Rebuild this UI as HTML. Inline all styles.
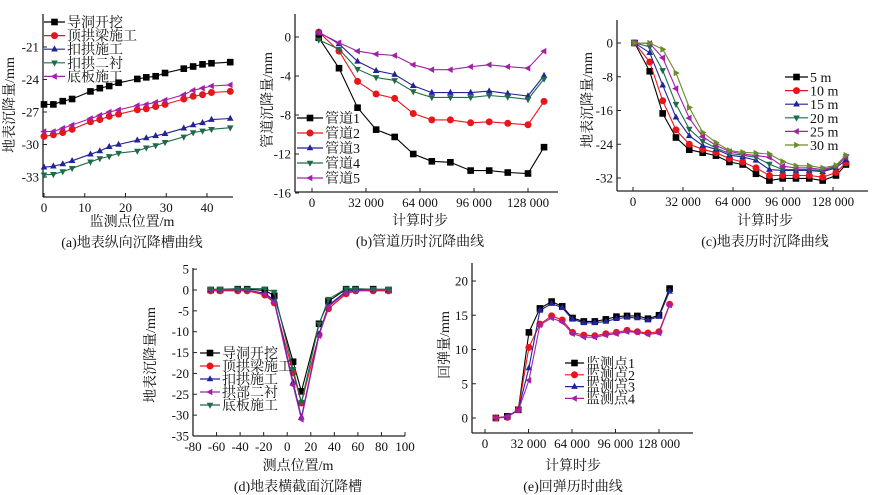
<!DOCTYPE html>
<html><head><meta charset="utf-8">
<style>
body{margin:0;background:#fff;}
svg{display:block;font-family:"Liberation Serif","Noto Serif CJK SC",serif;}
</style></head>
<body>
<svg id="fig" width="889" height="495" viewBox="0 0 889 495" xmlns="http://www.w3.org/2000/svg"></svg>
<script>
// ---- Panel (a) data ----
const aX = [0,2.3,4.6,6.9,11.4,13.7,16,18.3,22.9,25.1,27.4,29.7,34.3,36.6,38.9,41.1,45.7];
const aS1 = [-26.3,-26.3,-26.0,-25.8,-25.1,-24.8,-24.6,-24.3,-23.95,-23.8,-23.7,-23.4,-23.0,-22.8,-22.6,-22.5,-22.4];
const aS2 = [-29.25,-29.1,-28.9,-28.6,-27.9,-27.7,-27.4,-27.2,-26.8,-26.7,-26.5,-26.3,-25.8,-25.55,-25.4,-25.2,-25.1];
const aS3 = [-32.1,-32.0,-31.8,-31.5,-30.9,-30.6,-30.2,-30.0,-29.6,-29.4,-29.2,-29.0,-28.5,-28.2,-28.0,-27.7,-27.6];
const aS4 = [-32.8,-32.75,-32.5,-32.2,-31.6,-31.3,-31.1,-30.8,-30.6,-30.3,-30.1,-29.8,-29.3,-28.9,-28.75,-28.6,-28.45];
const aS5 = [-28.8,-28.8,-28.5,-28.2,-27.6,-27.3,-27.0,-26.8,-26.4,-26.3,-26.1,-25.9,-25.4,-25.0,-24.8,-24.6,-24.5];
const aNames = ["导洞开挖","顶拱梁施工","扣拱施工","扣拱二衬","底板施工"];
const aXTicks = [0,10,20,30,40];
const aYTicks = [-33,-30,-27,-24,-21];
// ---- Panel (b) data ----
const bX = [4000,16000,27000,38000,49000,60000,71000,82000,94000,105000,116000,128000,137500];
const bS1 = [-0.07,-3.2,-7.25,-9.5,-10.25,-12.0,-12.75,-12.85,-13.7,-13.7,-13.9,-14.0,-11.3];
const bS2 = [0.5,-1.45,-4.55,-5.85,-6.3,-7.85,-8.5,-8.5,-8.8,-8.7,-8.85,-9.0,-6.6];
const bS3 = [0.5,-0.7,-2.5,-3.45,-3.85,-5.0,-5.7,-5.7,-5.7,-5.55,-5.8,-6.05,-3.95];
const bS4 = [-0.3,-1.25,-3.3,-4.15,-4.45,-5.6,-6.2,-6.2,-6.2,-6.0,-6.15,-6.4,-4.3];
const bS5 = [0.45,-0.6,-1.45,-1.75,-1.9,-2.85,-3.35,-3.35,-3.05,-2.85,-3.05,-3.2,-1.45];
const bNames = ["管道1","管道2","管道3","管道4","管道5"];
const bXTicks = [0,32000,64000,96000,128000];
const bXLabels = ["0","32 000","64 000","96 000","128 000"];
const bYTicks = [-16,-12,-8,-4,0];
// ---- Panel (c) data ----
const cX = [1000,10700,19000,27500,36000,44600,53100,61700,70200,78700,87300,95800,104300,112800,121400,129900,136300];
const cS1 = [0,-6.7,-16.7,-22.4,-25.3,-26.0,-26.7,-28.2,-28.8,-31.0,-32.6,-32.1,-32.1,-32.1,-32.6,-31.4,-28.8];
const cS2 = [0,-4.5,-13.7,-20.6,-24.0,-25.2,-26.0,-27.4,-28.2,-29.6,-31.4,-31.4,-31.4,-31.4,-31.8,-30.7,-28.4];
const cS3 = [0,-2.3,-10.0,-17.6,-22.0,-24.3,-25.2,-26.6,-27.0,-27.8,-30.0,-30.2,-30.2,-30.2,-30.5,-29.6,-27.7];
const cS4 = [0,-0.9,-6.5,-14.5,-20.4,-23.3,-24.9,-26.2,-26.6,-27.1,-28.7,-30.0,-30.0,-30.0,-30.3,-29.4,-26.9];
const cS5 = [0,-0.1,-3.5,-10.8,-17.8,-22.2,-24.3,-25.7,-26.3,-26.7,-27.1,-29.2,-29.6,-29.6,-30.0,-29.2,-27.0];
const cS6 = [0,0,-1.5,-7.1,-15.3,-21.2,-23.6,-25.5,-25.9,-26.1,-26.3,-28.1,-29.1,-29.1,-29.6,-29.0,-26.6];
const cNames = ["5 m","10 m","15 m","20 m","25 m","30 m"];
const cYTicks = [-32,-24,-16,-8,0];
// ---- Panel (d) data ----
const dX = [-65,-57,-42,-34,-19,-11,5,12,27,35,50,58,73,86];
const dS1 = [0,0,0.2,0.2,-0.1,-1.4,-17.2,-24.3,-8.1,-2.7,0.2,0.2,0.2,0];
const dS2 = [-0.2,-0.2,-0.2,-0.2,-1.2,-3.1,-19.8,-27.1,-10.7,-4.5,-0.9,-0.2,-0.2,-0.2];
const dS3 = [0,0,0,0,-0.8,-2.5,-22.1,-30.5,-10.6,-3.7,-0.3,0,0,0];
const dS4 = [0,0,0,0,-1,-2.9,-22.8,-31,-11,-4,-0.6,-0.2,0,0];
const dS5 = [0.2,0.2,0.3,0.3,0.3,-0.5,-19.0,-26.9,-8.2,-2.2,0.3,0.3,0.2,0.2];
const dNames = ["导洞开挖","顶拱梁施工","扣拱施工","拱部二衬","底板施工"];
const dXTicks = [-80,-60,-40,-20,0,20,40,60,80,100];
const dYTicks = [-35,-30,-25,-20,-15,-10,-5,0,5];
// ---- Panel (e) data ----
const eX = [8000,16400,24500,32300,40400,49000,56800,64400,72700,80800,88900,96700,104500,112100,119900,128000,135800];
const eS1 = [0,0.24,1.2,12.5,16.0,17.0,16.3,14.6,14.1,14.1,14.4,14.8,14.9,14.9,14.5,15.0,18.9];
const eS2 = [0,0.1,1.2,10.3,13.7,14.9,14.3,12.5,12.1,12.0,12.3,12.5,12.8,12.6,12.4,12.6,16.6];
const eS3 = [0,0.24,1.2,7.3,15.7,16.7,16.1,14.4,13.9,13.9,14.1,14.5,14.7,14.6,14.3,14.8,18.5];
const eS4 = [0,0.2,1.1,5.5,13.6,14.6,14.0,12.3,11.8,11.8,12.1,12.3,12.6,12.5,12.2,12.4,16.5];
const eNames = ["监测点1","监测点2","监测点3","监测点4"];
const eYTicks = [0,5,10,15,20];

const NS = "http://www.w3.org/2000/svg";
const fig = document.getElementById("fig");
const COL = ["#000000","#e8161b","#22229a","#1e6b4a","#a321a8","#6b8a2a"];
const MK = ["sq","ci","tu","td","tl","tr"];

function mk(tag, attrs, parent){
  const e = document.createElementNS(NS, tag);
  for (const k in attrs) e.setAttribute(k, attrs[k]);
  (parent||fig).appendChild(e);
  return e;
}
function marker(g, type, x, y, c){
  let e;
  const s = 3.3;
  if (type==="sq") e = mk("rect",{x:x-s,y:y-s,width:2*s,height:2*s,fill:c},g);
  else if (type==="ci") e = mk("circle",{cx:x,cy:y,r:3.5,fill:c},g);
  else {
    let p;
    if (type==="tu") p=[[x,y-s-0.5],[x-s,y+s-1],[x+s,y+s-1]];
    if (type==="td") p=[[x,y+s+0.5],[x-s,y-s+1],[x+s,y-s+1]];
    if (type==="tl") p=[[x-s-0.5,y],[x+s-1,y-s],[x+s-1,y+s]];
    if (type==="tr") p=[[x+s+0.5,y],[x-s+1,y-s],[x-s+1,y+s]];
    e = mk("polygon",{points:p.map(q=>q.join(",")).join(" "),fill:c},g);
  }
  
  
}
function text(t, x, y, opts){
  const e = mk("text", Object.assign({x:x,y:y,"font-size":13,fill:"#111"}, opts||{}));
  e.textContent = t;
  return e;
}

function panel(p){
  const g = mk("g",{});
  
  
  const sx = v => p.px[0] + (v - p.xd[0])/(p.xd[1]-p.xd[0])*(p.px[1]-p.px[0]);
  const sy = v => p.py[0] + (v - p.yd[0])/(p.yd[1]-p.yd[0])*(p.py[1]-p.py[0]);
  const ya = mk("line",{x1:p.ax,y1:p.top,x2:p.ax,y2:p.bot,stroke:"#222","stroke-width":1.3},g);
  
  
  const xa = mk("line",{x1:p.ax,y1:p.bot,x2:p.right,y2:p.bot,stroke:"#222","stroke-width":1.3},g);
  
  
  p.yt.forEach(v=>{
    mk("line",{x1:p.ax,y1:sy(v),x2:p.ax+4,y2:sy(v),stroke:"#222"},g);
    const t = text(String(v), p.ax-4, sy(v)+4.5, {"text-anchor":"end"});
    
    
  });
  p.xt.forEach((v,i)=>{
    mk("line",{x1:sx(v),y1:p.bot,x2:sx(v),y2:p.bot-4,stroke:"#222"},g);
    const t = text(p.xl ? p.xl[i] : String(v), sx(v), p.bot+15, {"text-anchor":"middle"});
    
    
  });
  p.series.forEach((s,i)=>{
    const sg = mk("g",{},g);
    
    
    const pts = s.map((v,j)=>sx(p.x[j]).toFixed(1)+","+sy(v).toFixed(1)).join(" ");
    const pl = mk("polyline",{points:pts,fill:"none",stroke:COL[p.cols[i]],"stroke-width":1.1},sg);
    
    
    s.forEach((v,j)=>marker(sg, MK[p.cols[i]], sx(p.x[j]), sy(v), COL[p.cols[i]]));
  });
  const lg = mk("g",{},g);
  
  
  p.names.forEach((n,i)=>{
    const y = p.leg[2] + i*p.leg[3];
    const c = COL[p.cols[i]];
    mk("line",{x1:p.leg[0],y1:y,x2:p.leg[1],y2:y,stroke:c,"stroke-width":1.2},lg);
    marker(lg, MK[p.cols[i]], (p.leg[0]+p.leg[1])/2, y, c);
    const t = mk("text",{x:p.leg[1]+2,y:y+5,"font-size":p.lfs||14,fill:"#111"},lg);
    t.textContent = n;
    
    
  });
  const yl = text(p.ylab, 0, 0, {"text-anchor":"middle","font-size":14,transform:`translate(${p.ylp[0]},${p.ylp[1]}) rotate(-90)`});
  
  
  const xl = text(p.xlab, p.xlp[0], p.xlp[1], {"text-anchor":"middle","font-size":14});
  
  
  const cp = text(p.cap, p.xlp[0], p.xlp[1]+21, {"text-anchor":"middle","font-size":14});
  
  
}

panel({name:"panel-a", x:aX, series:[aS1,aS2,aS3,aS4,aS5], names:aNames, cols:[0,1,2,3,4],
  xd:[0,40], px:[44,207], yd:[-33,-21], py:[177,47], ax:43, top:14, bot:197, right:233,
  xt:aXTicks, yt:aYTicks, leg:[44,65,22,13.6],
  ylab:"地表沉降量/mm", ylp:[14,105], xlab:"监测点位置/m", xlp:[132,226], cap:"(a)地表纵向沉降槽曲线"});
panel({name:"panel-b", x:bX, series:[bS1,bS2,bS3,bS4,bS5], names:bNames, cols:[0,1,2,3,4],
  xd:[0,128000], px:[312,528], yd:[-16,0], py:[193,37], ax:295, top:14, bot:192, right:558,
  xt:bXTicks, xl:bXLabels, yt:bYTicks, leg:[297,323,118,15],
  ylab:"管道沉降量/mm", ylp:[272,100], xlab:"计算时步", xlp:[420,225], cap:"(b)管道历时沉降曲线"});
panel({name:"panel-c", x:cX, series:[cS1,cS2,cS3,cS4,cS5,cS6], names:cNames, cols:[0,1,2,3,4,5],
  xd:[0,128000], px:[633,833], yd:[-32,0], py:[178,43], ax:617, top:20, bot:191, right:868,
  xt:bXTicks, xl:bXLabels, yt:cYTicks, leg:[785,808,77,13.6],
  ylab:"地表沉降量/mm", ylp:[592,100], xlab:"计算时步", xlp:[765,225], cap:"(c)地表历时沉降曲线"});
panel({name:"panel-d", x:dX, series:[dS1,dS2,dS3,dS4,dS5], names:dNames, cols:[0,1,2,4,3],
  xd:[-80,100], px:[193,405], yd:[-35,0], py:[436,290], ax:193, top:268, bot:436, right:405,
  xt:dXTicks, yt:dYTicks, leg:[200,220,353,13],
  ylab:"地表沉降量/mm", ylp:[155,355], xlab:"测点位置/m", xlp:[298,470], cap:"(d)地表横截面沉降槽"});
panel({name:"panel-e", x:eX, series:[eS1,eS2,eS3,eS4], names:eNames, cols:[0,1,2,4],
  xd:[0,128000], px:[485,659], yd:[0,20], py:[418,281], ax:472, top:263, bot:433, right:693,
  xt:bXTicks, xl:bXLabels, yt:eYTicks, leg:[565,584,363,11.8],
  ylab:"回弹量/mm", ylp:[449,345], xlab:"计算时步", xlp:[573,470], cap:"(e)回弹历时曲线"});
</script>
</body></html>
